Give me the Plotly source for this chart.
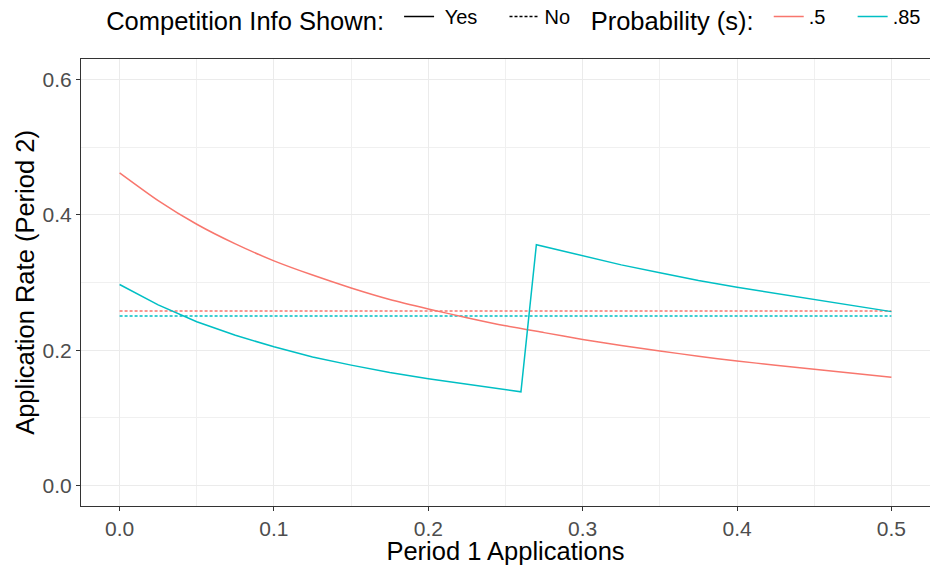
import plotly.graph_objects as go

# Period 1 applications (x) and Period 2 application rates
x_red = [0.0, 0.025, 0.05, 0.075, 0.1, 0.125, 0.15, 0.175, 0.2, 0.225, 0.25,
         0.275, 0.3, 0.325, 0.35, 0.375, 0.4, 0.425, 0.45, 0.475, 0.5]
y_red = [0.462, 0.421, 0.386, 0.357, 0.332, 0.311, 0.292, 0.275, 0.261, 0.248, 0.236,
         0.226, 0.216, 0.207, 0.199, 0.191, 0.184, 0.178, 0.172, 0.166, 0.160]

x_teal = [0.0, 0.025, 0.05, 0.075, 0.1, 0.125, 0.15, 0.175, 0.2, 0.225, 0.25, 0.26,
          0.27, 0.3, 0.325, 0.35, 0.375, 0.4, 0.425, 0.45, 0.475, 0.5]
y_teal = [0.297, 0.267, 0.242, 0.222, 0.205, 0.190, 0.178, 0.167, 0.158, 0.150, 0.142, 0.1386,
          0.3558, 0.339, 0.326, 0.3145, 0.303, 0.293, 0.284, 0.275, 0.266, 0.257]

x_flat = [0.0, 0.5]
y_flat_red = [0.258, 0.258]
y_flat_teal = [0.2505, 0.2505]

RED = "#F8766D"
TEAL = "#00BFC4"
FONT = "Liberation Sans, Arial, sans-serif"
DOT = "3px,2px"
NB = "\u00a0"

fig = go.Figure()

# data traces
fig.add_trace(go.Scatter(x=x_flat, y=y_flat_red, mode="lines",
                         line=dict(color=RED, width=1.5, dash=DOT), showlegend=False))
fig.add_trace(go.Scatter(x=x_flat, y=y_flat_teal, mode="lines",
                         line=dict(color=TEAL, width=1.5, dash=DOT), showlegend=False))
fig.add_trace(go.Scatter(x=x_red, y=y_red, mode="lines",
                         line=dict(color=RED, width=1.5, shape="spline", smoothing=0.6),
                         showlegend=False))
fig.add_trace(go.Scatter(x=x_teal, y=y_teal, mode="lines",
                         line=dict(color=TEAL, width=1.5), showlegend=False))

# legend entries
fig.add_trace(go.Scatter(x=[None], y=[None], mode="lines", name=NB + "Yes" + NB * 4,
                         line=dict(color="black", width=1.5), legend="legend"))
fig.add_trace(go.Scatter(x=[None], y=[None], mode="lines", name="No",
                         line=dict(color="black", width=1.5, dash=DOT), legend="legend"))
fig.add_trace(go.Scatter(x=[None], y=[None], mode="lines", name=".5" + NB * 4,
                         line=dict(color=RED, width=1.5), legend="legend2"))
fig.add_trace(go.Scatter(x=[None], y=[None], mode="lines", name=".85",
                         line=dict(color=TEAL, width=1.5), legend="legend2"))

axis_common = dict(
    showgrid=True, gridcolor="#EBEBEB", gridwidth=1.2,
    showline=True, linecolor="#333333", linewidth=1, mirror=True,
    ticks="outside", ticklen=4, tickcolor="#333333", tickwidth=1,
    tickfont=dict(family=FONT, size=21, color="#4D4D4D"),
    zeroline=False,
)

fig.update_layout(
    width=930, height=565,
    margin=dict(l=81, r=0, t=59, b=59),
    plot_bgcolor="white", paper_bgcolor="white",
    font=dict(family=FONT, color="black"),
    xaxis=dict(axis_common, range=[-0.025, 0.525], tickvals=[0, 0.1, 0.2, 0.3, 0.4, 0.5],
               ticktext=["0.0", "0.1", "0.2", "0.3", "0.4", "0.5"],
               minor=dict(showgrid=True, gridcolor="#F0F0F0", gridwidth=0.9,
                          tickvals=[0.05, 0.15, 0.25, 0.35, 0.45], ticks=""),
               title=dict(text="Period 1 Applications", font=dict(size=25.5, family=FONT),
                          standoff=2)),
    yaxis=dict(axis_common, range=[-0.03, 0.63], tickvals=[0, 0.2, 0.4, 0.6],
               ticktext=["0.0", "0.2", "0.4", "0.6"],
               minor=dict(showgrid=True, gridcolor="#F0F0F0", gridwidth=0.9,
                          tickvals=[0.1, 0.3, 0.5], ticks=""),
               title=dict(text="Application Rate (Period 2)", font=dict(size=25.5, family=FONT),
                          standoff=0)),
    legend=dict(orientation="h", xref="container", yref="container",
                x=0.112, y=1 - 19 / 565, xanchor="left", yanchor="middle",
                title=dict(text="Competition Info Shown: ", side="left",
                           font=dict(size=25.5, family=FONT)),
                font=dict(size=20, family=FONT), bgcolor="rgba(0,0,0,0)",
                itemwidth=30),
    legend2=dict(orientation="h", xref="container", yref="container",
                 x=0.633, y=1 - 19 / 565, xanchor="left", yanchor="middle",
                 title=dict(text="Probability (s): ", side="left",
                            font=dict(size=25.5, family=FONT)),
                 font=dict(size=20, family=FONT), bgcolor="rgba(0,0,0,0)",
                 itemwidth=30),
)

fig.write_html("out.html")
